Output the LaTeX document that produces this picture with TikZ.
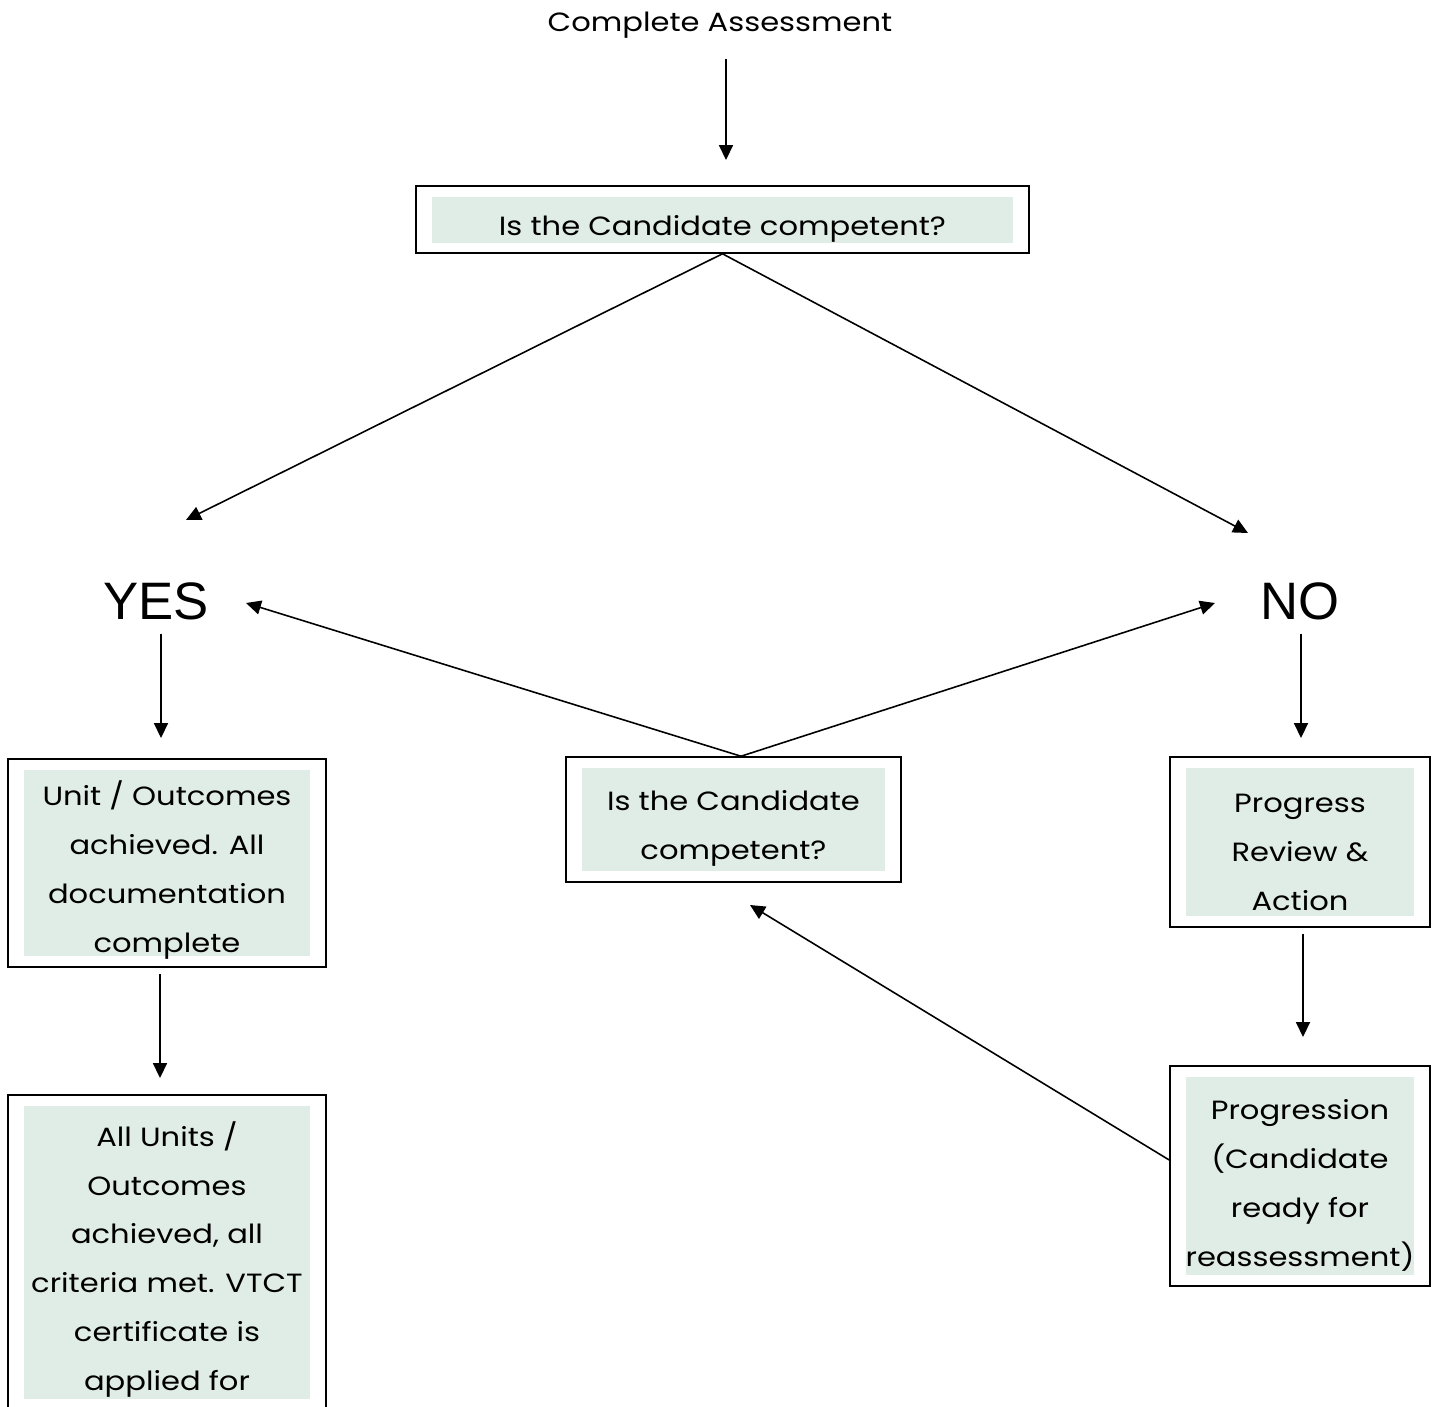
\documentclass[tikz,border=0pt]{standalone}
\usepackage{fontspec}
\setmainfont{Poppins}[FakeStretch=1.16]
\newfontfamily\arialfont{Liberation Sans}
\usetikzlibrary{calc,arrows.meta}
\definecolor{cellbg}{RGB}{224,236,230}

\tikzset{
  box/.style={draw, line width=0.9pt, align=center, inner sep=0pt,
    font=\fontsize{15}{27.8}\selectfont,
    path picture={\fill[cellbg] ($(path picture bounding box.south west)+(0.32cm,0.21cm)$) rectangle ($(path picture bounding box.north east)+(-0.32cm,-0.21cm)$);}},
  answer/.style={font=\arialfont\fontsize{30}{34}\selectfont, inner sep=5pt},
  arr/.style={-{Triangle[length=8.5pt,width=8pt]}, line width=0.9pt}
}

\begin{document}
\begin{tikzpicture}[x=0.02cm, y=-0.02cm]
                \useasboundingbox (0,0) rectangle (1438,1407);
                % start
                \node[font=\fontsize{15}{17}\selectfont] (start) at (720,25) {Complete Assessment};
                \node[box, text height=22pt, minimum width=12.26cm, minimum height=1.34cm] (top) at (722.5,219.5) {Is the Candidate competent?};
                % answers
                \node[answer] (yes) at (156,601) {YES};
                \node[answer] (no) at (1300,601) {NO};
                % boxes
                \node[box, text height=105.4pt, minimum width=6.36cm, minimum height=4.16cm] (unit) at (167,863) {Unit / Outcomes\\achieved. All\\documentation\\complete};
                \node[box, text height=161pt, minimum width=6.36cm, minimum height=6.3cm] (units) at (167,1252.5) {All Units /\\Outcomes\\achieved, all\\criteria met. VTCT\\certificate is\\applied for};
                \node[box, text height=49.8pt, minimum width=6.7cm, minimum height=2.5cm] (mid) at (733.5,819.5) {Is the Candidate\\competent?};
                \node[box, text height=77.6pt, minimum width=5.2cm, minimum height=3.4cm] (review) at (1300,842) {Progress\\Review \&\\Action};
                \node[box, text height=105.4pt, minimum width=5.2cm, minimum height=4.4cm] (prog) at (1300,1176) {Progression\\(Candidate\\ready for\\reassessment)};
                % arrow tips
                \coordinate (toptip) at (726,160);
                \coordinate (yestip) at (186,520);
                \coordinate (notip) at (1248,533);
                \coordinate (yesback) at (246,603);
                \coordinate (noback) at (1215,603);
                \coordinate (yesdown) at (161,738);
                \coordinate (nodown) at (1301,738);
                \coordinate (unitdown) at (160,1078);
                \coordinate (reviewdown) at (1303,1037);
                \coordinate (midtip) at (750,905);
                % connectors
                \draw[arr] ([yshift=-0.3cm]start.south -| toptip) -- (toptip);
                \draw[arr] (top.south) -- (yestip);
                \draw[arr] (top.south) -- (notip);
                \draw[arr] ([xshift=0.15cm]mid.north) -- (yesback);
                \draw[arr] ([xshift=0.15cm]mid.north) -- (noback);
                \draw[arr] ([yshift=-0.1cm]yes.south -| yesdown) -- (yesdown);
                \draw[arr] ([yshift=-0.1cm]no.south -| nodown) -- (nodown);
                \draw[arr] ([yshift=-0.12cm]unit.south -| unitdown) -- (unitdown);
                \draw[arr] ([yshift=-0.12cm]review.south -| reviewdown) -- (reviewdown);
                \draw[arr] ([yshift=0.32cm]prog.west) -- (midtip);
            \end{tikzpicture}
\end{document}
